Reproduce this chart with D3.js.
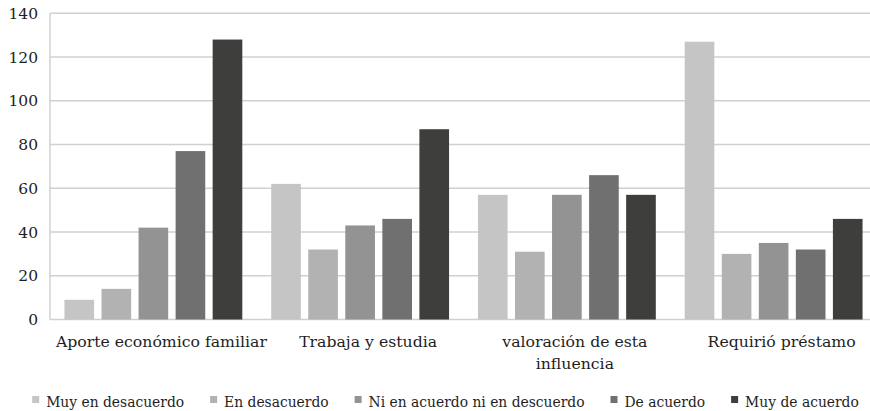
<!DOCTYPE html>
<html><head><meta charset="utf-8">
<script src="https://cdn.jsdelivr.net/npm/d3@7"></script>
<style>body{margin:0;background:#fff}svg text{font-family:"DejaVu Serif",serif;fill:#1e1e1e}</style>
</head><body><svg id="c" width="870" height="411"></svg>
<script>
const categories = ["Aporte económico familiar", "Trabaja y estudia", "valoración de esta influencia", "Requirió préstamo"];
const categoryLines = [["Aporte económico familiar"], ["Trabaja y estudia"], ["valoración de esta", "influencia"], ["Requirió préstamo"]];
const seriesNames = ["Muy en desacuerdo", "En desacuerdo", "Ni en acuerdo ni en descuerdo", "De acuerdo", "Muy de acuerdo"];
const muyDesacuerdo = [9, 62, 57, 127];
const enDesacuerdo = [14, 32, 31, 30];
const niNi = [42, 43, 57, 35];
const deAcuerdo = [77, 46, 66, 32];
const muyDeAcuerdo = [128, 87, 57, 46];
const yTicks = [0, 20, 40, 60, 80, 100, 120, 140];
const colors = ["#c5c5c5", "#b2b2b2", "#939393", "#707070", "#3e3e3c"];

const seriesValues = [muyDesacuerdo, enDesacuerdo, niNi, deAcuerdo, muyDeAcuerdo];
const svg = d3.select("#c");
const pLeft = 50, pRight = 877, pTop = 13.3, pBottom = 319.5;

const y = d3.scaleLinear().domain([0, 140]).range([pBottom, pTop]);
const x0 = d3.scaleBand().domain(categories).range([pLeft, pRight]).padding(0);
const x1 = d3.scaleBand().domain(seriesNames).range([0, x0.bandwidth()]).paddingInner(0.2).paddingOuter(0.39);

// gridlines
svg.append("g").selectAll("line").data(yTicks).join("line")
  .attr("x1", pLeft).attr("x2", pRight)
  .attr("y1", d => y(d)).attr("y2", d => y(d))
  .attr("stroke", "#d0d0d0").attr("stroke-width", 1.5);
svg.append("line").attr("x1", pLeft).attr("x2", pLeft).attr("y1", y(140)).attr("y2", y(0))
  .attr("stroke", "#d0d0d0").attr("stroke-width", 1.5);

// bars
const groups = svg.append("g").selectAll("g").data(categories).join("g")
  .attr("transform", d => `translate(${x0(d)},0)`);
groups.selectAll("rect").data((d, i) => seriesNames.map((s, j) => ({s, j, v: seriesValues[j][i]})))
  .join("rect")
  .attr("x", d => x1(d.s)).attr("width", x1.bandwidth())
  .attr("y", d => y(d.v)).attr("height", d => y(0) - y(d.v))
  .attr("fill", d => colors[d.j]);

// y labels
svg.append("g").selectAll("text").data(yTicks).join("text")
  .attr("x", 38).attr("y", d => y(d)).attr("dy", "0.36em")
  .attr("text-anchor", "end").attr("font-size", 15.5).text(d => d);

// category labels
svg.append("g").selectAll("text").data(categories).join("text")
  .attr("y", 347).attr("text-anchor", "middle").attr("font-size", 15.7)
  .each(function(d, i) {
    d3.select(this).selectAll("tspan").data(categoryLines[i]).join("tspan")
      .attr("x", x0(d) + x0.bandwidth() / 2 + 8)
      .attr("dy", (t, k) => k === 0 ? 0 : 22).text(t => t);
  });

// legend
const lg = svg.append("g");
const items = lg.selectAll("g").data(seriesNames).join("g");
items.append("rect").attr("width", 7).attr("height", 7).attr("y", -11).attr("fill", (d, i) => colors[i]);
items.append("text").attr("x", 14).attr("font-size", 13.85).text(d => d);
let xpos = 0;
const gap = 26;
items.each(function() {
  const g = d3.select(this);
  const w = 14 + g.select("text").node().getComputedTextLength();
  g.attr("transform", `translate(${xpos},0)`);
  xpos += w + gap;
});
const total = xpos - gap;
lg.attr("transform", `translate(${445.5 - total / 2},407)`);
</script></body></html>
